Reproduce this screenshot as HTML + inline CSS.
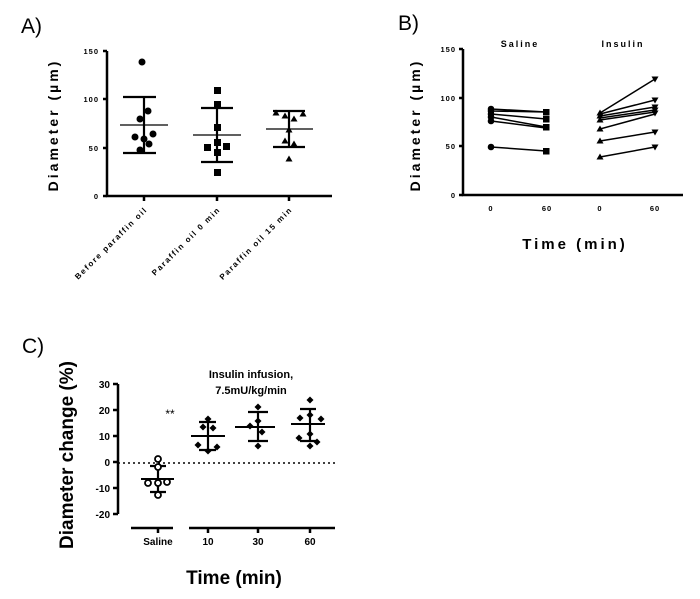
<!DOCTYPE html>
<html><head><meta charset="utf-8"><style>
html,body{margin:0;padding:0;background:#fff;}
svg{display:block;font-family:"Liberation Sans",Arial,sans-serif;}
</style></head><body>
<svg width="700" height="599" viewBox="0 0 700 599" xmlns="http://www.w3.org/2000/svg">
<defs>
<path id="tu" d="M0,-3.5 L3.5,2.5 L-3.5,2.5Z"/>
<path id="td" d="M0,3.5 L3.5,-2.5 L-3.5,-2.5Z"/>
<path id="dm" d="M0,-3.5 L3.5,0 L0,3.5 L-3.5,0Z"/>
</defs>
<!-- Panel A -->
<text x="21" y="33" font-size="21">A)</text>
<g stroke="#000" stroke-width="2.5" fill="none">
<path d="M107,51 V196 H332"/>
<path d="M103,51h4M103,99h4M103,148h4M103,196h4"/>
<path d="M144,196v5M217,196v5M289,196v5"/>
</g>
<g font-size="7.5" font-weight="bold" text-anchor="end" letter-spacing="1">
<text x="99" y="54">150</text><text x="99" y="102">100</text><text x="99" y="151">50</text><text x="99" y="199">0</text>
</g>
<text transform="translate(58,125) rotate(-90)" font-size="14" font-weight="bold" text-anchor="middle" letter-spacing="3">Diameter (µm)</text>
<g font-size="8" font-weight="bold" text-anchor="end" letter-spacing="1.6">
<text transform="translate(148,210) rotate(-45)">Before paraffin oil</text>
<text transform="translate(221,210) rotate(-45)">Paraffin oil 0 min</text>
<text transform="translate(293,210) rotate(-45)">Paraffin oil 15 min</text>
</g>
<g stroke="#000" fill="none">
<path stroke-width="1.3" d="M120,125H168M193,135H241M266,129H313"/>
<path stroke-width="2.2" d="M144,97V153M123,97H156M123,153H156M217,108V162M201,108H233M201,162H233M289,111V147M273,111H305M273,147H305"/>
</g>
<g fill="#000">
<circle cx="142" cy="62" r="3.5"/><circle cx="148" cy="111" r="3.5"/><circle cx="140" cy="119" r="3.5"/><circle cx="135" cy="137" r="3.5"/><circle cx="153" cy="134" r="3.5"/><circle cx="144" cy="139" r="3.5"/><circle cx="149" cy="144" r="3.5"/><circle cx="140" cy="150" r="3.5"/>
<rect x="214" y="87" width="7" height="7"/><rect x="214" y="101" width="7" height="7"/><rect x="214" y="124" width="7" height="7"/><rect x="204" y="144" width="7" height="7"/><rect x="214" y="139" width="7" height="7"/><rect x="223" y="143" width="7" height="7"/><rect x="214" y="149" width="7" height="7"/><rect x="214" y="169" width="7" height="7"/>
<use href="#tu" x="276" y="113"/><use href="#tu" x="285" y="116"/><use href="#tu" x="294" y="119"/><use href="#tu" x="303" y="114"/><use href="#tu" x="289" y="130"/><use href="#tu" x="285" y="141"/><use href="#tu" x="294" y="144"/><use href="#tu" x="289" y="159"/>
</g>
<!-- Panel B -->
<text x="398" y="30" font-size="21">B)</text>
<g stroke="#000" stroke-width="2.5" fill="none">
<path d="M463,49 V195 H683"/>
<path d="M459,49h4M459,98h4M459,146h4M459,195h4"/>
</g>
<g font-size="7.5" font-weight="bold" text-anchor="end" letter-spacing="1">
<text x="456" y="52">150</text><text x="456" y="101">100</text><text x="456" y="149">50</text><text x="456" y="198">0</text>
</g>
<g font-size="7.5" font-weight="bold" text-anchor="middle" letter-spacing="1">
<text x="491" y="211">0</text><text x="547" y="211">60</text><text x="600" y="211">0</text><text x="655" y="211">60</text>
</g>
<g font-size="9" font-weight="bold" text-anchor="middle" letter-spacing="2">
<text x="520" y="47">Saline</text><text x="623" y="47">Insulin</text>
</g>
<text transform="translate(420,125) rotate(-90)" font-size="14" font-weight="bold" text-anchor="middle" letter-spacing="3">Diameter (µm)</text>
<text x="575" y="249" font-size="15" font-weight="bold" text-anchor="middle" letter-spacing="3">Time (min)</text>
<g stroke="#000" stroke-width="1.5">
<path d="M491,109L546,112M491,111L546,112M491,114L546,119M491,117L546,127M491,121L546,128M491,147L546,151"/>
<path d="M600,113L655,79M600,114L655,100M600,116L655,107M600,118L655,110M600,120L655,112M600,129L655,114M600,141L655,132M600,157L655,147"/>
</g>
<g fill="#000">
<circle cx="491" cy="109" r="3.3"/><circle cx="491" cy="111" r="3.3"/><circle cx="491" cy="114" r="3.3"/><circle cx="491" cy="117" r="3.3"/><circle cx="491" cy="121" r="3.3"/><circle cx="491" cy="147" r="3.3"/>
<rect x="543" y="109" width="6.5" height="6.5"/><rect x="543" y="116" width="6.5" height="6.5"/><rect x="543" y="124" width="6.5" height="6.5"/><rect x="543" y="148" width="6.5" height="6.5"/>
<use href="#tu" x="600" y="113"/><use href="#tu" x="600" y="116"/><use href="#tu" x="600" y="120"/><use href="#tu" x="600" y="129"/><use href="#tu" x="600" y="141"/><use href="#tu" x="600" y="157"/>
<use href="#td" x="655" y="79"/><use href="#td" x="655" y="100"/><use href="#td" x="655" y="107"/><use href="#td" x="655" y="110"/><use href="#td" x="655" y="113"/><use href="#td" x="655" y="132"/><use href="#td" x="655" y="147"/>
</g>
<!-- Panel C -->
<text x="22" y="353" font-size="21">C)</text>
<g stroke="#000" stroke-width="2.5" fill="none">
<path d="M118,384V514"/>
<path d="M113,384h5M113,410h5M113,436h5M113,462h5M113,488h5M113,514h5"/>
<path d="M131,528H173M189,528H335M158,528v5M208,528v5M258,528v5M310,528v5"/>
</g>
<path d="M118,463H335" stroke="#000" stroke-width="1.5" stroke-dasharray="2,3"/>
<g font-size="10" font-weight="bold" text-anchor="end">
<text x="110" y="388">30</text><text x="110" y="414">20</text><text x="110" y="440">10</text><text x="110" y="466">0</text><text x="110" y="492">-10</text><text x="110" y="518">-20</text>
</g>
<g font-size="10" font-weight="bold" text-anchor="middle">
<text x="158" y="545">Saline</text><text x="208" y="545">10</text><text x="258" y="545">30</text><text x="310" y="545">60</text>
</g>
<text x="170" y="418" font-size="12" text-anchor="middle">**</text>
<g font-size="11" font-weight="bold" text-anchor="middle">
<text x="251" y="378">Insulin infusion,</text><text x="251" y="394">7.5mU/kg/min</text>
</g>
<text transform="translate(73,455) rotate(-90)" font-size="19" font-weight="bold" text-anchor="middle">Diameter change (%)</text>
<text x="234" y="584" font-size="19" font-weight="bold" text-anchor="middle">Time (min)</text>
<g stroke="#000" fill="none">
<path stroke-width="2" d="M141,479H174M191,436H225M235,427H275M291,424H325"/>
<path stroke-width="2.2" d="M158,466V492M150,466H166M150,492H166M208,422V450M199,422H216M199,450H216M258,412V441M248,412H268M248,441H268M310,409V441M300,409H316M300,441H316"/>
</g>
<g fill="#fff" stroke="#000" stroke-width="1.8">
<circle cx="158" cy="459" r="3"/><circle cx="158" cy="467" r="3"/><circle cx="148" cy="483" r="3"/><circle cx="158" cy="483" r="3"/><circle cx="167" cy="482" r="3"/><circle cx="158" cy="495" r="3"/>
</g>
<g fill="#000">
<use href="#dm" x="208" y="419"/><use href="#dm" x="203" y="427"/><use href="#dm" x="213" y="428"/><use href="#dm" x="198" y="445"/><use href="#dm" x="217" y="447"/><use href="#dm" x="208" y="451"/>
<use href="#dm" x="258" y="407"/><use href="#dm" x="258" y="421"/><use href="#dm" x="250" y="426"/><use href="#dm" x="262" y="432"/><use href="#dm" x="258" y="446"/>
<use href="#dm" x="310" y="400"/><use href="#dm" x="310" y="415"/><use href="#dm" x="300" y="418"/><use href="#dm" x="321" y="419"/><use href="#dm" x="310" y="434"/><use href="#dm" x="299" y="438"/><use href="#dm" x="317" y="442"/><use href="#dm" x="310" y="446"/>
</g>
</svg>
</body></html>
